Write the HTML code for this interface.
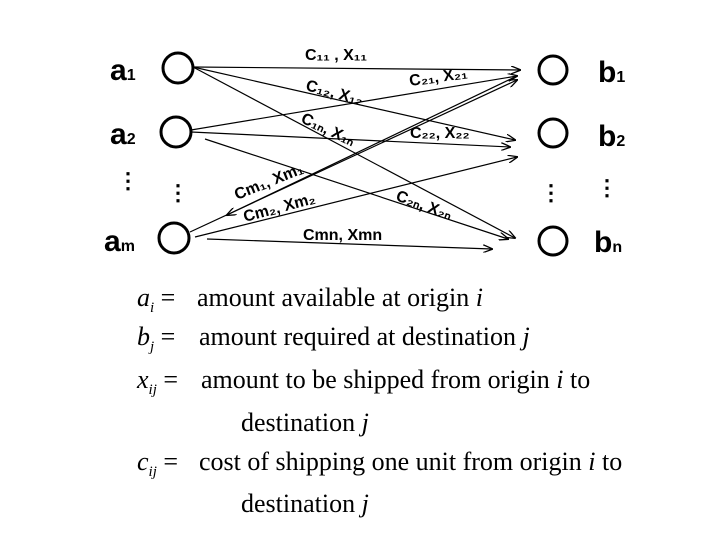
<!DOCTYPE html>
<html><head><meta charset="utf-8"><style>
body{margin:0;width:720px;height:540px;background:#fff;overflow:hidden;position:relative}
.t{position:absolute;font-family:"Liberation Serif",serif;font-size:26px;color:#000;white-space:nowrap;line-height:30px}
i{font-style:italic}
sub{font-size:15px}
</style></head><body>
<svg width="720" height="280" style="position:absolute;left:0;top:0" font-family="Liberation Sans, sans-serif">
<defs><marker id="a" markerWidth="10" markerHeight="8" refX="9" refY="4" orient="auto" markerUnits="userSpaceOnUse"><path d="M0,0 L10,4 L0,8" fill="none" stroke="#000" stroke-width="1.3"/></marker></defs>
<g fill="none" stroke="#000" stroke-width="3">
<circle cx="178" cy="68" r="15"/><circle cx="176" cy="132" r="15"/><circle cx="174" cy="238" r="15"/>
<circle cx="553" cy="70" r="14"/><circle cx="553" cy="133" r="14"/><circle cx="553" cy="241" r="14"/>
</g>
<g stroke="#000" stroke-width="1.2" marker-end="url(#a)">
<line x1="193" y1="67" x2="520" y2="70"/>
<line x1="193" y1="67" x2="515" y2="140"/>
<line x1="193" y1="67" x2="515" y2="238"/>
<line x1="191" y1="130" x2="517" y2="76"/>
<line x1="191" y1="132" x2="510" y2="147"/>
<line x1="205" y1="139" x2="508" y2="239"/>
<line x1="190" y1="232" x2="517" y2="80"/>
<line x1="517" y1="76" x2="227" y2="215"/>
<line x1="195" y1="237" x2="517" y2="157"/>
<line x1="207" y1="239" x2="492" y2="249"/>
</g>
<g font-size="16" font-weight="bold">
<text x="305" y="60">C₁₁ ,  X₁₁</text>
<text x="305" y="90" transform="rotate(15 305 90)">C₁₂,  X₁₂</text>
<text x="410" y="86" transform="rotate(-8 410 86)">C₂₁, X₂₁</text>
<text x="300" y="122" transform="rotate(25 300 122)">C₁ₙ, X₁ₙ</text>
<text x="410" y="138">C₂₂, X₂₂</text>
<text x="237" y="200" transform="rotate(-22 237 200)">Cm₁, Xm₁</text>
<text x="245" y="222" transform="rotate(-15 245 222)">Cm₂, Xm₂</text>
<text x="395" y="200" transform="rotate(20 395 200)">C₂ₙ, X₂ₙ</text>
<text x="303" y="240">Cmn, Xmn</text>
</g>
<g font-size="30" font-weight="bold">
<text x="110" y="80">a<tspan font-size="16">1</tspan></text>
<text x="110" y="144">a<tspan font-size="16">2</tspan></text>
<text x="104" y="251">a<tspan font-size="16">m</tspan></text>
<text x="598" y="82">b<tspan font-size="16">1</tspan></text>
<text x="598" y="146">b<tspan font-size="16">2</tspan></text>
<text x="594" y="252">b<tspan font-size="16">n</tspan></text>
<text x="117" y="188" font-size="22">⋮</text>
<text x="167" y="200" font-size="22">⋮</text>
<text x="540" y="200" font-size="22">⋮</text>
<text x="596" y="195" font-size="22">⋮</text>
</g>
</svg>
<div class="t" style="left:137px;top:283px"><i>a<sub>i</sub></i> =</div>
<div class="t" style="left:197px;top:283px">amount available at origin <i>i</i></div>
<div class="t" style="left:137px;top:322px"><i>b<sub>j</sub></i> =</div>
<div class="t" style="left:199px;top:322px">amount required at destination <i>j</i></div>
<div class="t" style="left:137px;top:365px"><i>x<sub>ij</sub></i> =</div>
<div class="t" style="left:201px;top:365px">amount to be shipped from origin <i>i</i> to</div>
<div class="t" style="left:241px;top:408px">destination <i>j</i></div>
<div class="t" style="left:137px;top:447px"><i>c<sub>ij</sub></i> =</div>
<div class="t" style="left:199px;top:447px">cost of shipping one unit from origin <i>i</i> to</div>
<div class="t" style="left:241px;top:489px">destination <i>j</i></div>
</body></html>
